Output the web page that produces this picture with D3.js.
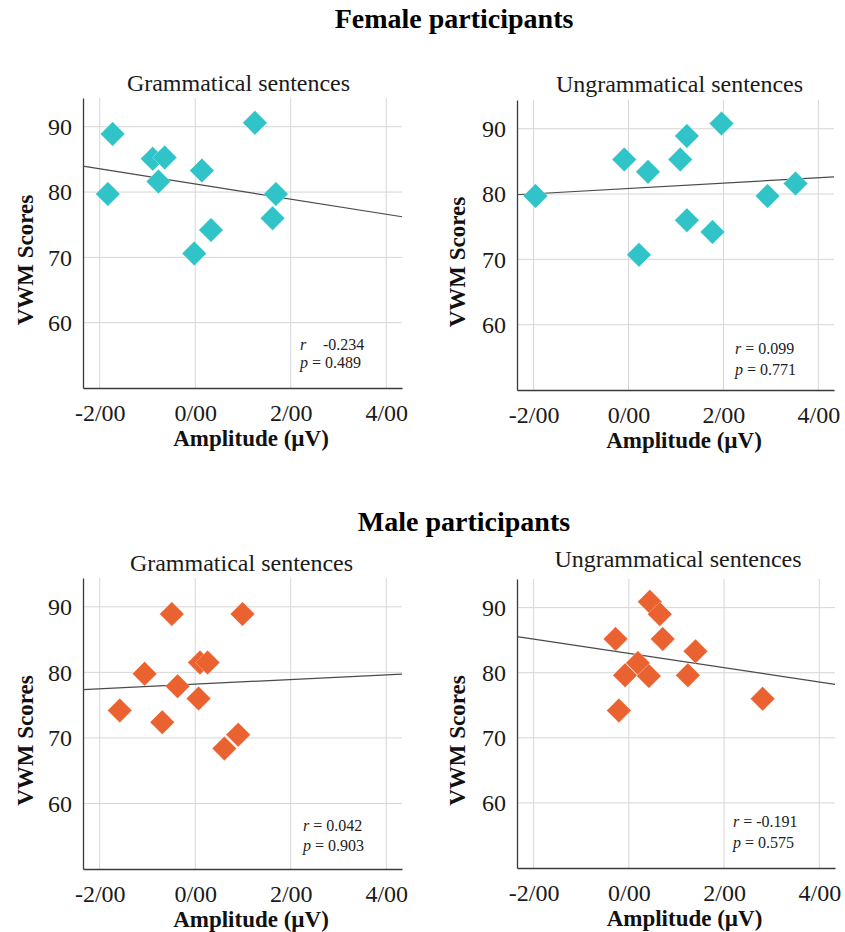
<!DOCTYPE html>
<html>
<head>
<meta charset="utf-8">
<script src="https://cdn.jsdelivr.net/npm/d3@7"></script>
<style>
  body { margin: 0; background: #fff; }
  text { font-family: "Liberation Serif", "Times New Roman", serif; }
</style>
</head>
<body>
<div class="chart"></div>
<script>
// data
var groupTitles = ["Female participants", "Male participants"];
var panelTitles = ["Grammatical sentences", "Ungrammatical sentences",
                   "Grammatical sentences", "Ungrammatical sentences"];

var femaleGramX = [-1.73, -1.83, -0.89, -0.64, -0.77, 0.14, 1.25, 1.69, 1.62, 0.33, -0.02];
var femaleGramY = [88.9, 79.7, 85.1, 85.3, 81.6, 83.3, 90.6, 79.7, 76.0, 74.2, 70.6];
var femaleUngX = [-1.96, -0.09, 0.41, 0.22, 1.09, 1.23, 1.23, 1.77, 1.96, 2.93, 3.52];
var femaleUngY = [79.7, 85.3, 83.4, 70.7, 85.3, 88.9, 76.0, 74.2, 90.8, 79.7, 81.6];
var maleGramX = [-1.58, -1.06, -0.49, -0.69, -0.37, 0.10, 0.26, 0.07, 0.99, 0.61, 0.90];
var maleGramY = [74.2, 79.8, 88.9, 72.4, 77.9, 81.5, 81.5, 76.0, 88.9, 68.4, 70.5];
var maleUngX = [-0.28, -0.21, -0.08, 0.19, 0.42, 0.44, 0.65, 0.71, 1.24, 1.40, 2.81];
var maleUngY = [85.2, 74.2, 79.6, 81.5, 79.5, 90.9, 89.0, 85.2, 79.6, 83.3, 76.0];

// fit lines (intercept at x = 0, slope)
var fitIntercepts = [81.24, 80.86, 78.2, 82.97];
var fitSlopes = [-1.16, 0.41, 0.357, -1.10];

var rValues = ["-0.234", "0.099", "0.042", "-0.191"];
var pValues = ["0.489", "0.771", "0.903", "0.575"];

var xTicks = [-2, 0, 2, 4];
var xTickLabels = ["-2/00", "0/00", "2/00", "4/00"];
var yTicks = [60, 70, 80, 90];

var xDomain = [-2.35, 4.33];
var yDomain = [50, 94.4];

var teal = "#30c3c7";
var orange = "#ea6230";

var svg = d3.select(".chart")
  .append("svg")
  .attr("width", 845)
  .attr("height", 932);

// group headings
svg.append("text")
  .attr("x", 454).attr("y", 28)
  .attr("text-anchor", "middle")
  .style("font-weight", "bold").style("font-size", "28px")
  .text(groupTitles[0]);

svg.append("text")
  .attr("x", 464).attr("y", 531)
  .attr("text-anchor", "middle")
  .style("font-weight", "bold").style("font-size", "28px")
  .text(groupTitles[1]);

// panel boxes (plot area in page pixels)
var panels = [
  {left: 83, top: 98, right: 402, bottom: 388, xs: femaleGramX, ys: femaleGramY, color: teal, ann: {dx: -102, dy1: -38, dy2: -20}, titleDx: -4, titleY: 91},
  {left: 517, top: 100, right: 834, bottom: 390, xs: femaleUngX, ys: femaleUngY, color: teal, ann: {dx: -99, dy1: -36, dy2: -15}, titleDx: 4, titleY: 92},
  {left: 83, top: 578, right: 402, bottom: 869, xs: maleGramX, ys: maleGramY, color: orange, ann: {dx: -99, dy1: -38, dy2: -18}, titleDx: -1, titleY: 571},
  {left: 517, top: 579, right: 835, bottom: 868, xs: maleUngX, ys: maleUngY, color: orange, ann: {dx: -102, dy1: -41, dy2: -20}, titleDx: 2, titleY: 567}
];

var diamond = d3.symbol().type(d3.symbolSquare).size(300);

panels.forEach(function(p, i) {
  var w = p.right - p.left;
  var h = p.bottom - p.top;

  var x = d3.scaleLinear().domain(xDomain).range([0, w]);
  var y = d3.scaleLinear().domain(yDomain).range([h, 0]);

  var g = svg.append("g")
    .attr("transform", `translate(${p.left}, ${p.top})`);

  // grid
  g.selectAll(".vgrid")
    .data(xTicks)
    .enter()
    .append("line")
    .attr("x1", d => x(d)).attr("x2", d => x(d))
    .attr("y1", 0).attr("y2", h)
    .attr("stroke", "#d6d6d6").attr("stroke-width", 1);

  g.selectAll(".hgrid")
    .data(yTicks)
    .enter()
    .append("line")
    .attr("x1", 0).attr("x2", w)
    .attr("y1", d => y(d)).attr("y2", d => y(d))
    .attr("stroke", "#d6d6d6").attr("stroke-width", 1);

  // axes
  var bottomAxis = d3.axisBottom(x)
    .tickValues(xTicks)
    .tickSize(0)
    .tickPadding(16)
    .tickFormat((d, k) => xTickLabels[k]);

  var leftAxis = d3.axisLeft(y)
    .tickValues(yTicks)
    .tickSize(0)
    .tickPadding(11);

  var xAxis = g.append("g")
    .attr("transform", `translate(0, ${h})`)
    .call(bottomAxis);

  var yAxis = g.append("g")
    .call(leftAxis);

  [xAxis, yAxis].forEach(function(ax) {
    ax.select(".domain").attr("stroke", "#3a3a3a").attr("stroke-width", 1.3);
    ax.selectAll("text")
      .style("font-family", "Liberation Serif, serif")
      .style("font-size", "24px")
      .attr("fill", "#1a1a1a");
  });

  // fit line
  g.append("line")
    .attr("x1", x(xDomain[0]))
    .attr("y1", y(fitIntercepts[i] + fitSlopes[i] * xDomain[0]))
    .attr("x2", x(xDomain[1]))
    .attr("y2", y(fitIntercepts[i] + fitSlopes[i] * xDomain[1]))
    .attr("stroke", "#4a4a4a").attr("stroke-width", 1.2);

  // points
  g.selectAll(".pt")
    .data(d3.range(p.xs.length))
    .enter()
    .append("path")
    .attr("d", diamond)
    .attr("transform", k => `translate(${x(p.xs[k])}, ${y(p.ys[k])}) rotate(45)`)
    .attr("fill", p.color)
    .attr("stroke", "#ffffff")
    .attr("stroke-opacity", 0.5)
    .attr("stroke-width", 0.6);

  // panel title
  g.append("text")
    .attr("x", w / 2 + p.titleDx)
    .attr("y", p.titleY - p.top)
    .attr("text-anchor", "middle")
    .style("font-size", "24px")
    .attr("fill", "#1a1a1a")
    .text(panelTitles[i]);

  // axis titles
  g.append("text")
    .attr("x", w / 2 + 8.5)
    .attr("y", h + 58)
    .attr("text-anchor", "middle")
    .style("font-weight", "bold")
    .style("font-size", "23px")
    .attr("fill", "#111")
    .text("Amplitude (µV)");

  g.append("text")
    .attr("transform", `translate(${i % 2 === 0 ? -50 : -52}, ${h / 2 + 17}) rotate(-90)`)
    .attr("text-anchor", "middle")
    .style("font-weight", "bold")
    .style("font-size", "23px")
    .attr("fill", "#111")
    .text("VWM Scores");

  // r / p annotation
  var ann = g.append("g")
    .attr("transform", `translate(${w + p.ann.dx}, ${h})`)
    .style("font-size", "16px")
    .attr("fill", "#222");

  var rLine = ann.append("text").attr("y", p.ann.dy1);
  if (i === 0) {
    // first panel has no "=" sign
    rLine.append("tspan").style("font-style", "italic").text("r");
    rLine.append("tspan").attr("x", 23).text(rValues[i]);
  } else {
    rLine.append("tspan").style("font-style", "italic").text("r");
    rLine.append("tspan").text(" = " + rValues[i]);
  }

  var pLine = ann.append("text").attr("y", p.ann.dy2);
  pLine.append("tspan").style("font-style", "italic").text("p");
  pLine.append("tspan").text(" = " + pValues[i]);
});
</script>
</body>
</html>
